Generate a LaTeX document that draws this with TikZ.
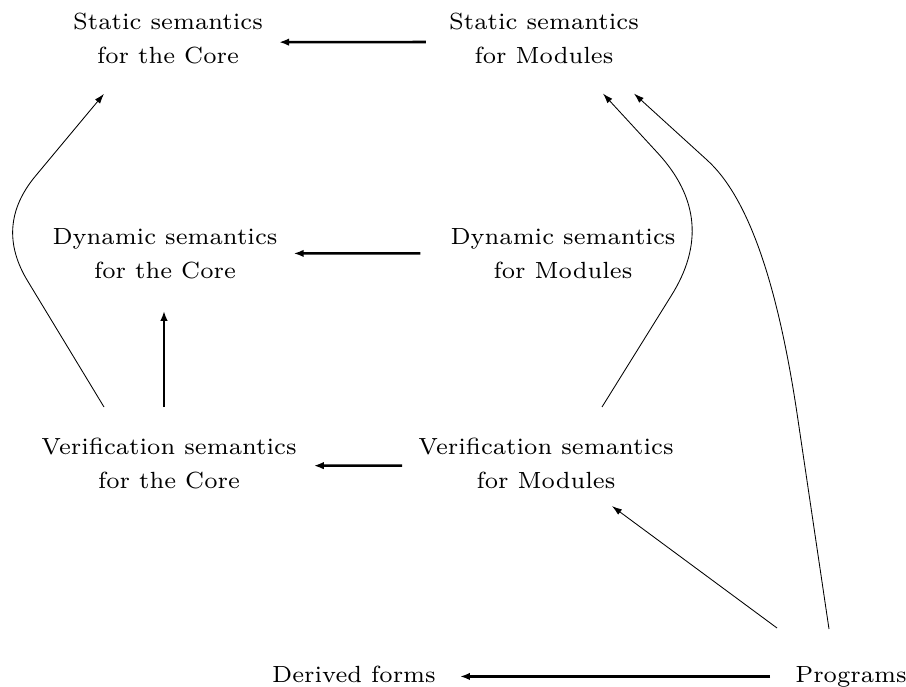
\documentclass[tikz,border=0pt]{standalone}
\usepackage{fontspec}
\setmainfont{lmroman7-regular.otf}
\usetikzlibrary{arrows.meta,calc}
\begin{document}
\begin{tikzpicture}[x=1pt,y=-1pt,
  lbl/.style={anchor=north,inner sep=0pt,align=center,font=\fontsize{23.4pt}{34pt}\selectfont},
  single/.style={lbl,text height=16pt,text depth=4.5pt},
  big/.style={line width=2.6pt,-{Latex[length=10pt,width=7.5pt]}},
  thin/.style={line width=0.85pt,-{Latex[length=10pt,width=6.5pt]}}]
\useasboundingbox (0,0) rectangle (906,687);
\node[lbl] (sc) at (168,12.5) {Static semantics\\for the Core};
\node[lbl] (sm) at (544,12.5) {Static semantics\\for Modules};
\node[lbl] (dc) at (165,228) {Dynamic semantics\\for the Core};
\node[lbl] (dm) at (563,228) {Dynamic semantics\\for Modules};
\node[lbl] (vc) at (169,438) {Verification semantics\\for the Core};
\node[lbl] (vm) at (546,438) {Verification semantics\\for Modules};
\node[single] (df) at (354,666) {Derived forms};
\node[single] (pg) at (851,666) {Programs};
% horizontal and vertical arrows
\draw[big] ([xshift=-23pt,yshift=-4pt]sm.west) -- ([xshift=16pt,yshift=-4pt]sc.east);
\draw[big] ([xshift=-30pt]dm.west) -- ([xshift=16pt]dc.east);
\draw[big] ([xshift=-16pt,yshift=-2pt]vm.west) -- ([xshift=17pt,yshift=-2pt]vc.east);
\draw[big] ([xshift=-5pt,yshift=31pt]vc.north) -- ([xshift=-1pt,yshift=-32pt]dc.south);
\draw[big] ([xshift=-25pt]pg.west) -- ([xshift=24pt]df.east);
% curves
\draw[thin] ([xshift=-65pt,yshift=31pt]vc.north) -- (27.9,281.4)
  .. controls (5.3,244.5) and (7.8,209.3) .. (35.5,176)
  -- ([xshift=-64pt,yshift=-30pt]sc.south);
\draw[thin] ([xshift=56pt,yshift=31pt]vm.north) -- (671,296.1)
  .. controls (703,245.4) and (698.75,197.9) .. (658.25,153.6)
  -- ([xshift=59pt,yshift=-30pt]sm.south);
\draw[thin] ([xshift=-22pt,yshift=37pt]pg.north) -- (798,420)
  .. controls (778,283) and (748,197) .. (707,160)
  -- ([xshift=90pt,yshift=-30pt]sm.south);
\draw[thin] ([xshift=-74pt,yshift=38pt]pg.north) -- ([xshift=66pt,yshift=-17pt]vm.south);
\end{tikzpicture}
\end{document}
